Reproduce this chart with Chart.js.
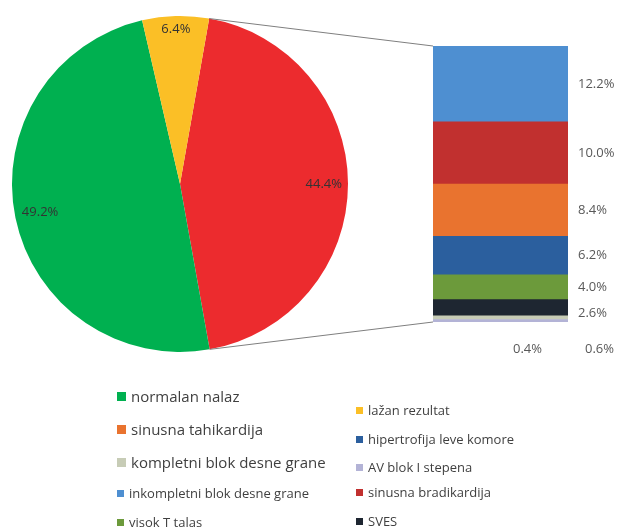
<!DOCTYPE html>
<html>
<head>
<meta charset="utf-8">
<script src="https://cdn.jsdelivr.net/npm/chart.js@4.4.0/dist/chart.umd.min.js"></script>
<style>
  body { margin: 0; background: #fff; }
  #wrap { position: relative; width: 618px; height: 530px; overflow: hidden; font-family: "Open Sans", sans-serif; color: #3f3f3f; }
  #pieBox { position: absolute; left: 0; top: 0; width: 360px; height: 368px; }
  #barBox { position: absolute; left: 360px; top: 0; width: 258px; height: 368px; }
  #lines { position: absolute; left: 0; top: 0; pointer-events: none; }
  .item { position: absolute; white-space: nowrap; line-height: 1; }
  .item span.sq { position: absolute; left: 0; }
</style>
</head>
<body>
<div id="wrap">
  <div id="pieBox"><canvas id="pie"></canvas></div>
  <div id="barBox"><canvas id="bar"></canvas></div>
  <canvas id="lines" width="618" height="530"></canvas>
  <div id="legend"></div>
</div>
<script>
// pie: the red slice is the sum of the bar breakdown
const pieLabels = ['ostalo', 'normalan nalaz', 'lažan rezultat'];
const pieValues = [44.4, 49.2, 6.4];
const pieColors = ['#EC2B2E', '#00B050', '#FBBF26'];

// bar breakdown, bottom to top
const barLabels = ['AV blok I stepena', 'kompletni blok desne grane', 'SVES', 'visok T talas',
  'hipertrofija leve komore', 'sinusna tahikardija', 'sinusna bradikardija', 'inkompletni blok desne grane'];
const barValues = [0.4, 0.6, 2.6, 4.0, 6.2, 8.4, 10.0, 12.2];
const barColors = ['#B3B3D6', '#C7CCB6', '#1E2631', '#6C9A3B', '#2B5F9E', '#E9732F', '#C1302F', '#4E8FD1'];

// legend columns
const legendLeft = ['normalan nalaz', 'sinusna tahikardija', 'kompletni blok desne grane', 'inkompletni blok desne grane', 'visok T talas'];
const legendRight = ['lažan rezultat', 'hipertrofija leve komore', 'AV blok I stepena', 'sinusna bradikardija', 'SVES'];

function colorOf(name) {
  let i = pieLabels.indexOf(name);
  if (i >= 0) return pieColors[i];
  return barColors[barLabels.indexOf(name)];
}

const pieLabelPlugin = {
  id: 'pieLabels',
  afterDatasetsDraw(chart) {
    const ctx = chart.ctx;
    const meta = chart.getDatasetMeta(0);
    ctx.save();
    ctx.font = '13px "Open Sans"';
    ctx.fillStyle = '#333333';
    ctx.textAlign = 'center';
    ctx.textBaseline = 'middle';
    meta.data.forEach((arc, i) => {
      const mid = (arc.startAngle + arc.endAngle) / 2;
      const txt = pieValues[i].toFixed(1) + '%';
      const w = ctx.measureText(txt).width, h = 13;
      const cx = Math.cos(mid), cy = Math.sin(mid);
      const d = arc.outerRadius - (Math.abs(cx) * w / 2 + Math.abs(cy) * h / 2) - 6;
      ctx.fillText(txt, arc.x + cx * d, arc.y + cy * d);
    });
    ctx.restore();
  }
};

const barLabelPlugin = {
  id: 'barLabels',
  afterDatasetsDraw(chart) {
    const ctx = chart.ctx;
    ctx.save();
    ctx.font = '13px "Open Sans"';
    ctx.fillStyle = '#595959';
    ctx.textAlign = 'left';
    ctx.textBaseline = 'middle';
    const right = chart.chartArea.right, bottom = chart.chartArea.bottom;
    let prevY = -100;
    let below = 0;
    for (let i = barValues.length - 1; i >= 0; i--) {
      const el = chart.getDatasetMeta(i).data[0];
      const txt = barValues[i].toFixed(1) + '%';
      if (barValues[i] >= 1) {
        const y = Math.max((el.y + el.base) / 2, prevY + 26);
        ctx.fillText(txt, right + 10, y);
        prevY = y;
      } else {
        ctx.fillText(txt, right + 17 - below * 72, bottom + 27);
        below++;
      }
    }
    ctx.restore();
  }
};

const pieChart = new Chart(document.getElementById('pie'), {
  type: 'pie',
  data: {
    labels: pieLabels,
    datasets: [{ data: pieValues, backgroundColor: pieColors, borderWidth: 0 }]
  },
  options: {
    responsive: true,
    maintainAspectRatio: false,
    animation: false,
    rotation: 10,
    layout: { padding: 12 },
    plugins: { legend: { display: false }, tooltip: { enabled: false } }
  },
  plugins: [pieLabelPlugin]
});

const barChart = new Chart(document.getElementById('bar'), {
  type: 'bar',
  data: {
    labels: [''],
    datasets: barValues.map((v, i) => ({
      label: barLabels[i], data: [v], backgroundColor: barColors[i],
      borderWidth: 0, barPercentage: 1, categoryPercentage: 1
    }))
  },
  options: {
    responsive: true,
    maintainAspectRatio: false,
    animation: false,
    layout: { padding: { left: 73, right: 50, top: 46, bottom: 46 } },
    scales: {
      x: { stacked: true, display: false },
      y: { stacked: true, display: false, min: 0, max: barValues.reduce((a, b) => a + b, 0) }
    },
    plugins: { legend: { display: false }, tooltip: { enabled: false } }
  },
  plugins: [barLabelPlugin]
});

// connector lines from the red slice to the stacked bar
function drawLines() {
  const c = document.getElementById('lines').getContext('2d');
  c.clearRect(0, 0, 618, 530);
  const arc = pieChart.getDatasetMeta(0).data[0];
  const top = barChart.getDatasetMeta(barValues.length - 1).data[0];
  const bot = barChart.getDatasetMeta(0).data[0];
  const bx = 360 + top.x - top.width / 2;
  c.strokeStyle = '#7f7f7f';
  c.lineWidth = 1;
  c.beginPath();
  c.moveTo(arc.x + arc.outerRadius * Math.cos(arc.startAngle), arc.y + arc.outerRadius * Math.sin(arc.startAngle));
  c.lineTo(bx, top.y);
  c.moveTo(arc.x + arc.outerRadius * Math.cos(arc.endAngle), arc.y + arc.outerRadius * Math.sin(arc.endAngle));
  c.lineTo(bx, bot.base);
  c.stroke();
}
drawLines();

// legend
const legend = document.getElementById('legend');
const leftY = [396, 429, 462, 493, 522];
const rightY = [410, 439, 467, 492, 521];
function addItem(name, x, y, big) {
  const d = document.createElement('div');
  d.className = 'item';
  const fs = big ? 15 : 13;
  const sq = big ? 9 : 7;
  d.style.left = x + 'px';
  d.style.top = (y - fs / 2) + 'px';
  d.style.fontSize = fs + 'px';
  d.style.paddingLeft = (sq + 5) + 'px';
  d.innerHTML = '<span class="sq" style="width:' + sq + 'px;height:' + sq + 'px;top:' + ((fs - sq) / 2) + 'px;background:' + colorOf(name) + '"></span>' + name;
  legend.appendChild(d);
}
legendLeft.forEach((n, i) => addItem(n, 117, leftY[i], i < 3));
legendRight.forEach((n, i) => addItem(n, 356, rightY[i], false));
</script>
</body>
</html>
